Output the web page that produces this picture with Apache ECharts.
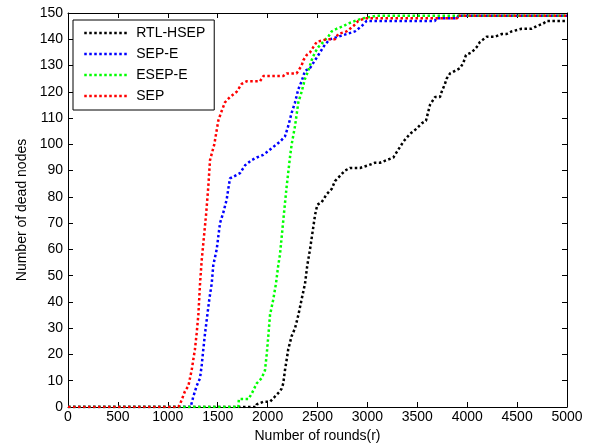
<!DOCTYPE html>
<html>
<head>
<meta charset="utf-8">
<script src="https://cdn.jsdelivr.net/npm/echarts@6/dist/echarts.min.js"></script>
<style>
html,body{margin:0;padding:0;background:#fff;}
#c{width:595px;height:448px;}
</style>
</head>
<body>
<div id="c"></div>
<script>
var seriesNames = ['RTL-HSEP', 'SEP-E', 'ESEP-E', 'SEP'];
var seriesColors = ['#000000', '#0000ff', '#00ff00', '#ff0000'];

var rtlX = [0, 1884, 1891, 1957, 2024, 2074, 2124, 2141, 2157, 2174, 2191, 2207, 2241, 2275, 2308, 2341, 2375, 2398, 2425, 2452, 2475, 2498, 2542, 2592, 2642, 2675, 2725, 2775, 2826, 2926, 3009, 3076, 3126, 3193, 3260, 3310, 3360, 3427, 3494, 3544, 3587, 3627, 3677, 3727, 3744, 3777, 3794, 3828, 3878, 3928, 3961, 3988, 4045, 4095, 4128, 4195, 4279, 4346, 4396, 4446, 4546, 4646, 4696, 4763, 4796, 5000];
var rtlY = [0, 0, 1, 2, 2, 4, 6, 7, 9, 14, 18, 22, 27, 30, 35, 41, 47, 54, 60, 67, 73, 77, 78, 81, 83, 86, 88, 90, 91, 91, 92, 93, 93, 94, 95, 98, 101, 104, 106, 108, 109, 115, 118, 118, 120, 123, 125, 127, 128, 129, 131, 134, 135, 137, 139, 141, 141, 142, 142, 143, 144, 144, 145, 146, 147, 147];

var sepeX = [0, 1229, 1256, 1289, 1323, 1340, 1356, 1373, 1396, 1416, 1440, 1456, 1490, 1523, 1556, 1590, 1606, 1623, 1673, 1723, 1774, 1841, 1891, 1957, 1991, 2057, 2124, 2174, 2207, 2241, 2275, 2308, 2341, 2375, 2425, 2458, 2492, 2525, 2575, 2625, 2708, 2792, 2876, 2942, 2993, 3059, 3677, 3690, 3900, 3910, 5000];
var sepeY = [0, 0, 4, 8, 11, 16, 22, 28, 35, 41, 47, 54, 60, 70, 74, 79, 83, 87, 88, 89, 92, 94, 95, 96, 97, 99, 101, 103, 107, 112, 116, 121, 124, 128, 129, 131, 133, 135, 138, 140, 141, 142, 143, 145, 147, 147, 147, 148, 148, 149, 149];

var esepX = [0, 1707, 1712, 1807, 1840, 1891, 1941, 1974, 1991, 2007, 2024, 2057, 2084, 2107, 2124, 2157, 2191, 2224, 2241, 2275, 2308, 2341, 2375, 2408, 2441, 2475, 2508, 2558, 2608, 2642, 2692, 2759, 2809, 2876, 2959, 3093, 5000];
var esepY = [0, 0, 3, 3, 5, 9, 11, 14, 20, 27, 35, 41, 47, 54, 58, 71, 84, 95, 100, 107, 116, 120, 125, 128, 132, 135, 137, 139, 141, 143, 144, 145, 146, 147, 148, 149, 149];

var sepX = [0, 1105, 1122, 1172, 1206, 1239, 1272, 1289, 1306, 1323, 1340, 1383, 1406, 1423, 1466, 1506, 1533, 1573, 1623, 1690, 1740, 1790, 1924, 1957, 2157, 2191, 2291, 2341, 2358, 2392, 2425, 2458, 2492, 2592, 2675, 2708, 2792, 2859, 2909, 2976, 3900, 3910, 5000];
var sepY = [0, 0, 1, 6, 8, 14, 22, 28, 35, 47, 56, 73, 84, 94, 100, 109, 112, 116, 118, 120, 123, 124, 124, 126, 126, 127, 127, 130, 132, 134, 135, 137, 139, 140, 140, 142, 143, 145, 147, 148, 148, 149, 149];

var xTicks = [0, 500, 1000, 1500, 2000, 2500, 3000, 3500, 4000, 4500, 5000];
var yTicks = [0, 10, 20, 30, 40, 50, 60, 70, 80, 90, 100, 110, 120, 130, 140, 150];

function zip(xs, ys) { return xs.map(function (x, i) { return [x, ys[i]]; }); }
var allX = [rtlX, sepeX, esepX, sepX];
var allY = [rtlY, sepeY, esepY, sepY];

var FONT = 'Liberation Sans, Arial, Helvetica, sans-serif';
var chart = echarts.init(document.getElementById('c'), null, {renderer: 'canvas'});

var baseAxis = {
  axisLine: {show: true, onZero: false, lineStyle: {color: '#000', width: 1}},
  axisTick: {show: true, inside: true, length: 5, lineStyle: {color: '#000', width: 1}},
  splitLine: {show: false}
};
function plain(v) { return String(v); }

var option = {
  backgroundColor: '#fff',
  animation: false,
  grid: {left: 68, top: 13, right: 28, bottom: 40, containLabel: false},
  xAxis: [
    Object.assign({}, baseAxis, {
      type: 'value', min: xTicks[0], max: xTicks[xTicks.length - 1], interval: 500, position: 'bottom',
      name: 'Number of rounds(r)', nameLocation: 'middle', nameGap: 22,
      nameTextStyle: {fontFamily: FONT, fontSize: 14, color: '#000'},
      axisLabel: {show: true, margin: 3, fontFamily: FONT, fontSize: 14, color: '#000', formatter: plain}
    }),
    Object.assign({}, baseAxis, {
      type: 'value', min: xTicks[0], max: xTicks[xTicks.length - 1], interval: 500, position: 'top',
      axisLabel: {show: false}
    })
  ],
  yAxis: [
    Object.assign({}, baseAxis, {
      type: 'value', min: yTicks[0], max: yTicks[yTicks.length - 1], interval: 10, position: 'left',
      name: 'Number of dead nodes', nameLocation: 'middle', nameGap: 38, nameRotate: 90,
      nameTextStyle: {fontFamily: FONT, fontSize: 14, color: '#000'},
      axisLabel: {show: true, margin: 5, fontFamily: FONT, fontSize: 14, color: '#000', formatter: plain}
    }),
    Object.assign({}, baseAxis, {
      type: 'value', min: yTicks[0], max: yTicks[yTicks.length - 1], interval: 10, position: 'right',
      axisLabel: {show: false}
    })
  ],
  legend: {
    show: true,
    orient: 'vertical',
    left: 73, top: 20,
    padding: [6, 9, 7, 10],
    itemWidth: 44, itemHeight: 14, itemGap: 7,
    backgroundColor: '#fff',
    borderColor: '#000', borderWidth: 1, borderRadius: 0,
    textStyle: {fontFamily: FONT, fontSize: 14, color: '#000', padding: [0, 0, 0, 3]},
    itemStyle: {opacity: 0},
    lineStyle: {width: 2.5, type: [2.5, 2.5], cap: 'butt'},
    z: 10
  },
  series: seriesNames.map(function (n, i) {
    return {
      name: n,
      type: 'line',
      xAxisIndex: 0, yAxisIndex: 0,
      data: zip(allX[i], allY[i]),
      showSymbol: false,
      symbol: 'none',
      color: seriesColors[i],
      itemStyle: {color: seriesColors[i]},
      lineStyle: {color: seriesColors[i], width: 2.5, type: [2.5, 2.5], cap: 'butt'},
      emphasis: {disabled: true},
      z: 2 + i
    };
  })
};
chart.setOption(option);
</script>
</body>
</html>
